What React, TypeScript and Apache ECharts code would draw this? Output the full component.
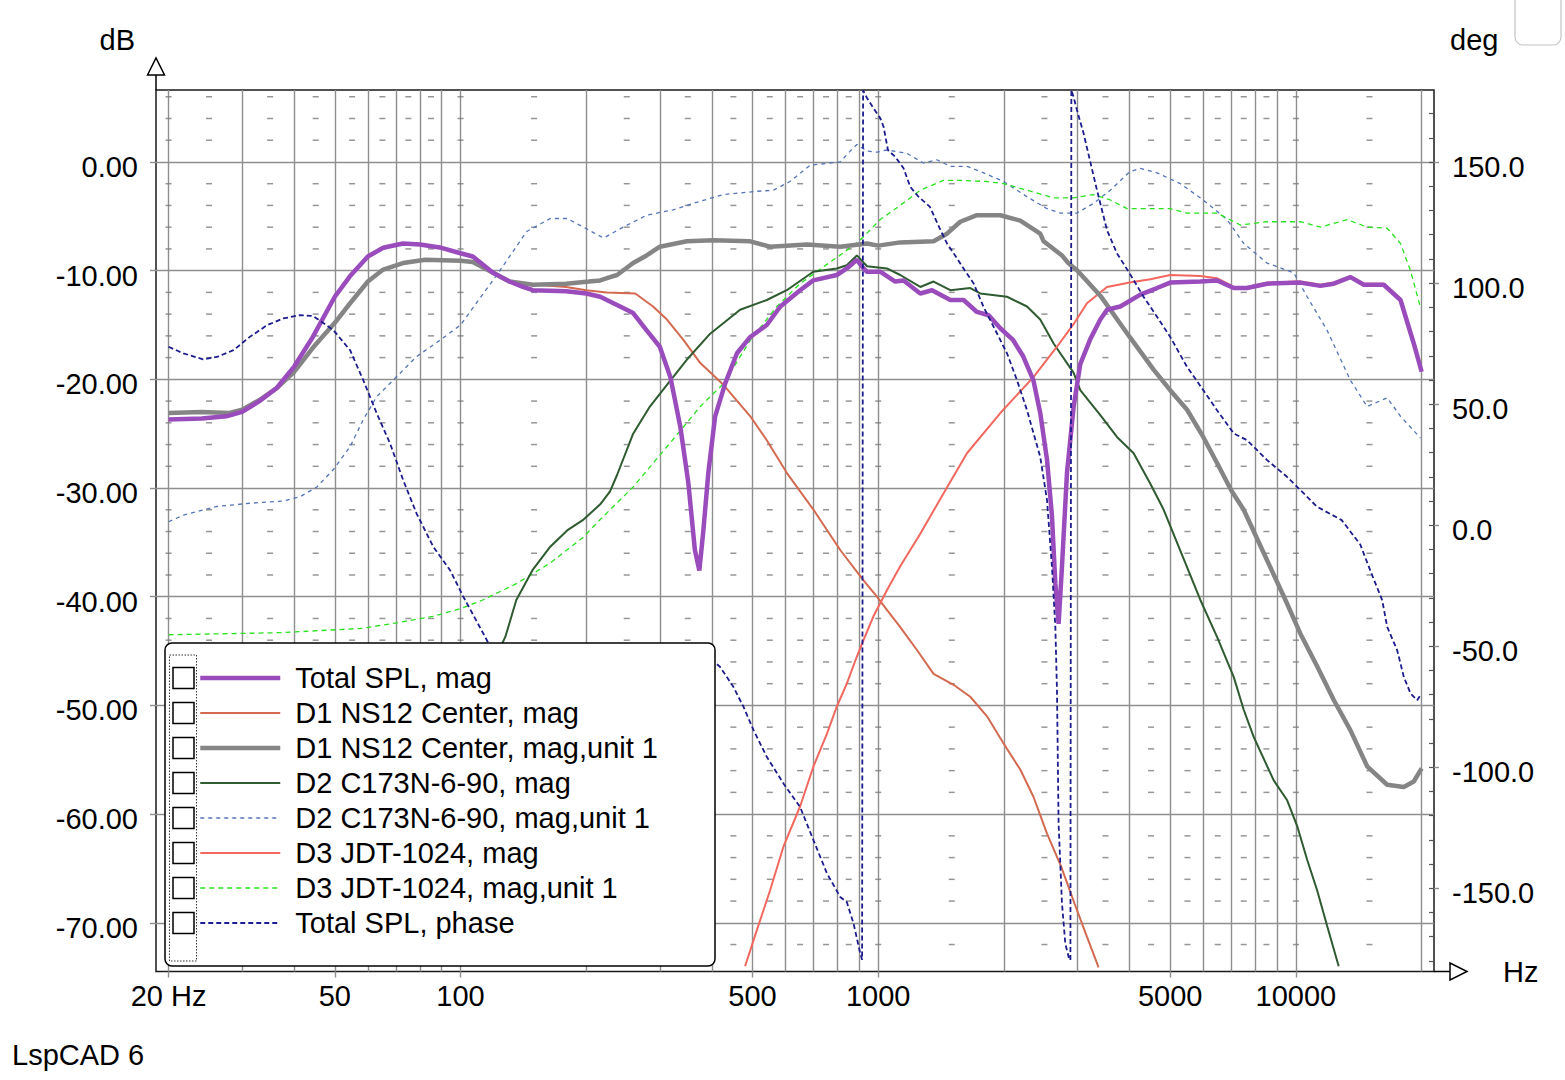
import { useEffect, useRef } from 'react';
import * as echarts from 'echarts';

const FONT = '"Liberation Sans", Arial, sans-serif';

// ---- axis ranges and ticks ----
const FREQ_RANGE = [18.66, 21410];
const DB_RANGE = [-74.48, 6.62];
const DEG_RANGE = [-184.4, 179.8];

const FREQ_LABELS = [20, 50, 100, 500, 1000, 5000, 10000];
const FREQ_GRID = [20, 30, 40, 50, 60, 70, 80, 90, 100, 200, 300, 400, 500, 600, 700, 800, 900, 1000, 2000, 3000, 4000, 5000, 6000, 7000, 8000, 9000, 10000, 20000];
const FREQ_MINOR = [20, 25, 35, 45, 55, 65, 75, 85, 100, 150, 250, 350, 450, 550, 650, 750, 850, 1000, 1500, 2500, 3500, 4500, 5500, 6500, 7500, 8500, 10000, 15000];
const DB_TICKS = [0, -10, -20, -30, -40, -50, -60, -70];
const DB_MINOR = [6, 4, 2, -2, -4, -6, -8, -12, -14, -16, -18, -22, -24, -26, -28, -32, -34, -36, -38, -42, -44, -46, -48, -52, -54, -56, -58, -62, -64, -66, -68, -72];
const DEG_TICKS = [-180, -170, -160, -150, -140, -130, -120, -110, -100, -90, -80, -70, -60, -50, -40, -30, -20, -10, 0, 10, 20, 30, 40, 50, 60, 70, 80, 90, 100, 110, 120, 130, 140, 150, 160, 170, 180];
const DEG_LABELS = [-150, -100, -50, 0, 50, 100, 150];

// ---- legend names ----
const SERIES_NAMES = [
  'Total SPL, mag',
  'D1 NS12 Center, mag',
  'D1 NS12 Center, mag,unit 1',
  'D2 C173N-6-90, mag',
  'D2 C173N-6-90, mag,unit 1',
  'D3 JDT-1024, mag',
  'D3 JDT-1024, mag,unit 1',
  'Total SPL, phase',
];

// ---- data: [Hz, dB] or [Hz, deg] ----
const TOTAL_SPL_MAG = [
  [20, -23.7], [24, -23.6], [27.5, -23.4], [30, -23.0], [33, -22.0], [36.3, -20.8], [40, -18.8], [44.3, -16.1], [50, -12.4], [54.4, -10.5],
  [60, -8.7], [65.3, -7.9], [72.8, -7.5], [80, -7.6], [90, -7.9], [100, -8.4], [107, -8.7], [119.6, -10.2], [131, -11.0], [141, -11.5],
  [149, -11.8], [179, -11.9], [200, -12.1], [216, -12.4], [241, -13.3], [259, -13.9], [279, -15.5], [300, -17.0], [318, -19.8], [336, -24.4],
  [351, -29.5], [364, -35.7], [373, -37.6], [381, -34.1], [392, -28.6], [407, -23.4], [430, -20.4], [459, -17.6], [494, -16.1], [541, -15.0],
  [583, -13.3], [650, -11.8], [699, -10.9], [796, -10.4], [841, -9.8], [889, -9.0], [922, -9.8], [940, -10.1], [1011, -10.1], [1098, -11.0],
  [1150, -10.9], [1261, -12.1], [1345, -11.8], [1488, -12.7], [1601, -12.7], [1723, -13.8], [1838, -14.1], [1960, -15.3], [2105, -16.4], [2225, -17.9],
  [2353, -20.1], [2443, -23.1], [2536, -27.4], [2606, -32.6], [2655, -38.8], [2703, -42.5], [2754, -37.2], [2831, -28.6], [2937, -22.5], [3046, -18.6],
  [3219, -16.3], [3402, -14.5], [3530, -13.6], [3798, -13.3], [4242, -12.2], [4651, -11.6], [5000, -11.1], [5905, -11.0], [6474, -10.9], [7100, -11.6],
  [7640, -11.6], [8530, -11.2], [10250, -11.1], [11450, -11.4], [12320, -11.2], [13510, -10.6], [14540, -11.3], [16230, -11.3], [17800, -12.7], [19150, -16.7],
  [20000, -19.3],
];

const D1_NS12_MAG = [
  [20, -23.7], [24, -23.6], [27.5, -23.4], [30, -23.0], [33, -22.0], [36.3, -20.8], [40, -18.8], [44.3, -16.1], [50, -12.4], [54.4, -10.5],
  [60, -8.7], [65.3, -7.9], [72.8, -7.5], [80, -7.6], [90, -7.9], [100, -8.4], [107, -8.7], [119.6, -10.2], [131, -11.1], [141, -11.2],
  [179, -11.5], [200, -11.8], [224, -12.0], [262, -12.1], [289, -13.3], [312, -14.5], [342, -16.4], [375, -18.5], [426, -20.5], [494, -23.4],
  [541, -25.6], [604, -28.6], [700, -32.0], [811, -35.7], [922, -38.5], [993, -40.0], [1049, -41.2], [1129, -42.8], [1238, -44.9], [1357, -47.1],
  [1515, -48.1], [1661, -49.2], [1822, -51.0], [1996, -53.5], [2188, -55.9], [2353, -58.4], [2536, -61.8], [2740, -64.8], [2950, -68.2], [3161, -71.3],
  [3370, -74.1],
];

const D1_NS12_UNIT1 = [
  [20, -23.1], [24, -23.0], [28, -23.1], [30, -22.8], [33, -21.9], [36.3, -20.8], [40, -19.3], [44.3, -17.1], [50, -14.8], [54.4, -13.0],
  [60, -11.0], [65.3, -9.9], [72.8, -9.3], [82.4, -9.0], [100, -9.1], [107, -9.2], [119.6, -10.2], [131, -11.0], [149, -11.3], [179, -11.2],
  [203, -11.0], [216, -10.9], [228, -10.6], [237, -10.4], [259, -9.3], [279, -8.6], [300, -7.8], [348, -7.3], [403, -7.2], [494, -7.3],
  [551, -7.8], [675, -7.6], [811, -7.8], [940, -7.5], [1000, -7.7], [1129, -7.4], [1357, -7.3], [1461, -6.6], [1572, -5.5], [1723, -4.9],
  [1960, -4.9], [2188, -5.4], [2443, -6.6], [2489, -7.3], [2754, -8.6], [2850, -9.3], [3000, -10.0], [3402, -12.3], [4000, -16.1], [4563, -19.1],
  [5000, -21.0], [5488, -22.8], [6000, -25.3], [6474, -27.7], [7000, -30.2], [7500, -32.0], [9440, -40.3], [10250, -43.4], [11240, -46.4], [12320, -49.5],
  [13510, -52.3], [14810, -55.6], [16540, -57.3], [18130, -57.5], [19150, -57.0], [20000, -55.8],
];

const D2_C173N_MAG = [
  [100, -56.0], [115, -47.5], [128, -43.7], [136, -40.3], [149, -37.5], [164, -35.4], [180, -33.9], [197, -32.9], [216, -31.5], [228, -30.3],
  [237, -28.8], [259, -25.0], [284, -22.5], [312, -20.5], [348, -18.2], [396, -15.8], [467, -13.6], [541, -12.7], [604, -11.8], [699, -10.1],
  [796, -9.8], [841, -9.5], [889, -8.6], [940, -9.6], [1049, -9.8], [1129, -10.4], [1261, -11.5], [1357, -11.0], [1488, -11.8], [1661, -11.6],
  [1755, -12.1], [2034, -12.4], [2271, -13.3], [2443, -14.5], [2630, -16.7], [2937, -19.4], [3046, -21.0], [3402, -23.3], [3729, -25.3], [4088, -26.8],
  [4482, -29.6], [4825, -32.0], [5905, -40.3], [6474, -43.7], [7100, -47.4], [7500, -50.4], [7923, -52.9], [8849, -56.9], [9520, -58.7], [10070, -61.1],
  [10640, -64.2], [11240, -67.0], [11880, -70.3], [12660, -74.0],
];

const D2_C173N_UNIT1 = [
  [20, -33.1], [21.7, -32.5], [26, -31.7], [31.3, -31.4], [37.6, -31.2], [41.3, -30.8], [45.3, -29.9], [49.6, -28.3], [54.4, -26.2], [58.5, -23.7],
  [63, -21.6], [69.7, -19.9], [78.5, -17.9], [89.3, -16.4], [100, -15.0], [109, -13.0], [119.6, -10.9], [131, -8.7], [144, -6.4], [164, -5.2],
  [180, -5.2], [197, -6.0], [220, -7.0], [245, -6.0], [279, -4.9], [323, -4.4], [361, -3.8], [426, -3.0], [512, -2.7], [561, -2.6],
  [615, -1.8], [687, -0.3], [811, 0.0], [857, 1.0], [889, 1.6], [940, 1.0], [993, 0.9], [1049, 1.1], [1171, 0.8], [1283, -0.1],
  [1382, 0.2], [1488, -0.4], [1631, -0.4], [1787, -1.0], [1996, -1.8], [2271, -3.2], [2536, -4.3], [2729, -4.7], [2991, -4.7], [3280, -3.8],
  [3595, -2.6], [4000, -0.9], [4242, -0.6], [4651, -1.0], [5289, -2.0], [6000, -3.5], [6840, -5.3], [7500, -7.5], [8530, -9.3], [9880, -10.2],
  [10640, -12.4], [11880, -15.5], [13510, -20.1], [14810, -22.5], [16540, -21.7], [17800, -23.4], [19870, -25.4],
];

const D3_JDT_MAG = [
  [480, -74.0], [512, -70.7], [551, -67.0], [593, -63.0], [650, -59.3], [700, -55.6], [754, -52.6], [796, -50.1], [841, -48.0], [889, -45.5],
  [922, -44.0], [974, -41.8], [1011, -40.6], [1049, -39.4], [1129, -37.2], [1261, -34.2], [1433, -30.5], [1631, -26.8], [1960, -23.1], [2353, -19.8],
  [2679, -17.0], [2950, -14.8], [3161, -13.0], [3530, -11.5], [4000, -11.1], [4482, -10.8], [5000, -10.4], [5905, -10.5], [6474, -10.7], [7100, -11.5],
  [7640, -11.5], [8530, -11.1], [10250, -11.0], [11450, -11.3], [12320, -11.1], [13510, -10.5], [14540, -11.2], [16230, -11.2], [17800, -12.6], [19150, -16.6],
  [20000, -19.2],
];

const D3_JDT_UNIT1 = [
  [20, -43.5], [37.6, -43.3], [58.4, -42.9], [70.3, -42.4], [86, -41.8], [100, -41.1], [113, -40.3], [136, -38.8], [164, -36.9], [197, -34.5],
  [216, -32.9], [228, -32.0], [259, -29.9], [312, -26.2], [375, -22.5], [426, -20.4], [494, -16.4], [572, -13.3], [650, -11.2], [781, -9.0],
  [823, -8.4], [905, -7.2], [1011, -5.3], [1129, -4.0], [1261, -2.6], [1433, -1.7], [1572, -1.7], [1822, -1.8], [1996, -2.0], [2271, -2.6],
  [2630, -3.3], [2937, -3.3], [3280, -3.0], [3595, -3.5], [3942, -4.3], [5000, -4.3], [5488, -4.7], [6474, -4.7], [7360, -5.8], [8530, -5.5],
  [10250, -5.5], [11450, -6.0], [13270, -5.3], [14810, -6.0], [16540, -6.1], [17800, -7.5], [18810, -10.0], [19870, -13.4],
];

const TOTAL_SPL_PHASE = [
  [20, 73.7], [21.7, 71.0], [24.2, 68.5], [26.1, 69.5], [28.6, 72.3], [31.3, 77.8], [34.4, 82.6], [37.6, 85.4], [41.3, 86.8], [44.4, 86.4],
  [49.6, 80.6], [54.4, 72.3], [58.5, 59.9], [63, 46.2], [67.8, 33.8], [72.9, 18.6], [78.5, 4.8], [86.1, -9.0], [94.4, -18.6], [101.6, -29.6],
  [113.4, -44.8], [130, -64], [160, -92], [200, -118], [250, -142], [300, -160], [335, -170], [355, -160], [368, -120], [380, -75],
  [395, -55], [418, -58.5], [450, -66.8], [476, -75.1], [503, -84.7], [541, -95.7], [593, -106.7], [650, -116.4], [700, -130.2], [754, -143.9],
  [811, -153.6], [841, -155.7], [873, -164.6], [902, -175.6], [915, -179.6], [920, 179.6], [940, 176.5], [974, 172.3], [1011, 168.2], [1030, 164.6],
  [1055, 155.0], [1098, 152.2], [1150, 147.5], [1193, 139.8], [1249, 135.7], [1330, 131.5], [1400, 123.0], [1461, 116.4], [1515, 112.4], [1601, 106.0],
  [1692, 99.9], [1787, 90.2], [1925, 79.2], [2034, 71.0], [2149, 59.9], [2271, 47.5], [2355, 37.9], [2443, 28.2], [2536, 10.3], [2606, -17.2],
  [2655, -42.0], [2679, -68.2], [2703, -123.3], [2754, -156.3], [2805, -172.9], [2857, -178.4], [2885, -179.8], [2900, 179.8], [2940, 176.5], [2991, 171.5],
  [3102, 161.9], [3219, 150.1], [3340, 138.4], [3530, 121.9], [3729, 112.3], [4000, 104.0], [4321, 94.3], [4651, 86.1], [5000, 77.8], [5488, 65.4],
  [6000, 55.8], [6474, 47.5], [7100, 37.9], [7640, 35.1], [8530, 26.9], [9520, 20.0], [10250, 14.5], [11240, 7.6], [12870, 2.1], [14260, -8.0],
  [15090, -19.0], [16090, -31.0], [16540, -42.0], [17480, -51.7], [18130, -62.7], [18810, -69.5], [19510, -72.3], [19870, -70.2],
];

const SERIES_DATA = [
  TOTAL_SPL_MAG, D1_NS12_MAG, D1_NS12_UNIT1, D2_C173N_MAG,
  D2_C173N_UNIT1, D3_JDT_MAG, D3_JDT_UNIT1, TOTAL_SPL_PHASE,
];

// ---- styling (kept apart from the data) ----
const SERIES_STYLE = [
  { color: '#9a4cbc', width: 4.5, type: 'solid', yAxis: 0, z: 7 },
  { color: '#d36a50', width: 2, type: 'solid', yAxis: 0, z: 4 },
  { color: '#858585', width: 4.5, type: 'solid', yAxis: 0, z: 5 },
  { color: '#2e5b30', width: 2, type: 'solid', yAxis: 0, z: 4 },
  { color: '#5474b8', width: 1.3, type: [4, 4], yAxis: 0, z: 3 },
  { color: '#f2685f', width: 2, type: 'solid', yAxis: 0, z: 4 },
  { color: '#27e31c', width: 1.3, type: [5, 4], yAxis: 0, z: 3 },
  { color: '#1c1c8e', width: 1.8, type: [5, 3], yAxis: 1, z: 8 },
];

const GRID_COLOR = '#8e8e8e';
const TEXT_BASE = { fontFamily: FONT, fontSize: 29, color: '#000' };

export default function App() {
  const ref = useRef<HTMLDivElement>(null);

  useEffect(() => {
    const el = ref.current;
    if (!el) return;
    const chart = echarts.init(el, null, { renderer: 'svg' });

    const minorMarks: number[][] = [];
    FREQ_MINOR.forEach((f) => DB_MINOR.forEach((d) => minorMarks.push([f, d])));

    const lineSeries = SERIES_NAMES.map((name, i) => ({
      name,
      type: 'line',
      xAxisIndex: 0,
      yAxisIndex: SERIES_STYLE[i].yAxis,
      data: SERIES_DATA[i],
      showSymbol: false,
      symbol: 'none',
      z: SERIES_STYLE[i].z,
      color: SERIES_STYLE[i].color,
      lineStyle: { color: SERIES_STYLE[i].color, width: SERIES_STYLE[i].width, type: SERIES_STYLE[i].type },
      emphasis: { disabled: true },
    }));

    const rowH = 35;
    const checkBoxes = SERIES_NAMES.map((_, i) => ({
      type: 'rect',
      z: 12,
      shape: { x: 173, y: 678 + rowH * i - 10.5, width: 21, height: 21 },
      style: { fill: 'none', stroke: '#000', lineWidth: 1.5 },
      silent: true,
    }));

    chart.setOption({
      animation: false,
      backgroundColor: '#ffffff',
      textStyle: { fontFamily: FONT },
      grid: {
        left: 156,
        top: 90,
        right: 131,
        bottom: 108.5,
        show: true,
        borderColor: '#1a1a1a',
        borderWidth: 1.5,
        containLabel: false,
      },
      xAxis: [
        {
          type: 'log',
          logBase: 10,
          min: FREQ_RANGE[0],
          max: FREQ_RANGE[1],
          position: 'bottom',
          axisLine: { show: false, onZero: false },
          axisTick: { show: false, customValues: FREQ_GRID },
          axisLabel: { show: false },
          splitLine: { show: true, lineStyle: { color: GRID_COLOR, width: 1.4 } },
        },
        {
          type: 'log',
          logBase: 10,
          min: FREQ_RANGE[0],
          max: FREQ_RANGE[1],
          position: 'bottom',
          axisLine: { show: false, onZero: false },
          axisTick: { show: true, customValues: FREQ_LABELS, length: 6, lineStyle: { color: GRID_COLOR, width: 1.4 } },
          axisLabel: {
            customValues: FREQ_LABELS,
            margin: 10,
            ...TEXT_BASE,
            formatter: (v: number) => (v === 20 ? '20 Hz' : String(v)),
          },
          splitLine: { show: false },
          name: 'Hz',
          nameLocation: 'end',
          nameGap: 69,
          nameTextStyle: { ...TEXT_BASE, align: 'left', verticalAlign: 'middle', padding: [0, 0, 6, 0] },
        },
      ],
      yAxis: [
        {
          type: 'value',
          min: DB_RANGE[0],
          max: DB_RANGE[1],
          position: 'left',
          axisLine: { show: false, onZero: false },
          axisTick: { show: true, customValues: DB_TICKS, length: 6, lineStyle: { color: GRID_COLOR, width: 1.4 } },
          axisLabel: {
            customValues: DB_TICKS,
            margin: 18,
            ...TEXT_BASE,
            verticalAlign: 'top',
            lineHeight: 10,
            formatter: (v: number) => v.toFixed(2),
          },
          splitLine: { show: true, lineStyle: { color: GRID_COLOR, width: 1.4 } },
          name: 'dB',
          nameLocation: 'end',
          nameGap: 50,
          nameTextStyle: { ...TEXT_BASE, align: 'right', verticalAlign: 'middle', padding: [0, 21, 0, 0] },
        },
        {
          type: 'value',
          min: DEG_RANGE[0],
          max: DEG_RANGE[1],
          position: 'right',
          axisLine: { show: false, onZero: false },
          axisTick: { show: true, inside: true, customValues: DEG_TICKS, length: 5, lineStyle: { color: '#555', width: 1.2 } },
          axisLabel: {
            customValues: DEG_LABELS,
            margin: 18,
            ...TEXT_BASE,
            verticalAlign: 'top',
            lineHeight: 10,
            formatter: (v: number) => v.toFixed(1),
          },
          splitLine: { show: false },
          name: 'deg',
          nameLocation: 'end',
          nameGap: 50,
          nameTextStyle: { ...TEXT_BASE, align: 'left', verticalAlign: 'middle', padding: [0, 0, 0, 16] },
        },
        {
          type: 'value',
          min: DEG_RANGE[0],
          max: DEG_RANGE[1],
          position: 'right',
          axisLine: { show: false, onZero: false },
          axisTick: { show: true, customValues: DEG_LABELS, length: 5, lineStyle: { color: GRID_COLOR, width: 1.4 } },
          axisLabel: { show: false },
          splitLine: { show: false },
        },
      ],
      legend: {
        data: SERIES_NAMES,
        orient: 'vertical',
        left: 198,
        top: 660.5,
        padding: 0,
        itemGap: 0,
        itemWidth: 80,
        itemHeight: 10,
        selectedMode: false,
        z: 11,
        itemStyle: { opacity: 0 },
        lineStyle: { width: 'inherit' },
        textStyle: { ...TEXT_BASE, lineHeight: rowH, padding: [0, 0, 0, 10] },
      },
      graphic: [
        {
          type: 'rect',
          z: 10,
          shape: { x: 165, y: 643, width: 550, height: 323, r: 7 },
          style: { fill: '#ffffff', stroke: '#000', lineWidth: 1.5 },
          silent: true,
        },
        {
          type: 'rect',
          z: 12,
          shape: { x: 169.5, y: 655, width: 27, height: 306 },
          style: { fill: 'none', stroke: '#333', lineWidth: 1, lineDash: [1.5, 1.5] },
          silent: true,
        },
        ...checkBoxes,
        {
          type: 'polygon',
          z: 12,
          shape: { points: [[147.5, 75], [156, 58], [164.5, 75]] },
          style: { fill: '#fff', stroke: '#000', lineWidth: 1.5 },
          silent: true,
        },
        { type: 'line', z: 12, shape: { x1: 156, y1: 75, x2: 156, y2: 90 }, style: { stroke: '#000', lineWidth: 1.5 }, silent: true },
        {
          type: 'polygon',
          z: 12,
          shape: { points: [[1450, 963], [1467, 971.5], [1450, 980]] },
          style: { fill: '#fff', stroke: '#000', lineWidth: 1.5 },
          silent: true,
        },
        { type: 'line', z: 12, shape: { x1: 1434, y1: 971.5, x2: 1450, y2: 971.5 }, style: { stroke: '#000', lineWidth: 1.5 }, silent: true },
        {
          type: 'rect',
          z: 12,
          shape: { x: 1515, y: -12, width: 46, height: 57, r: 8 },
          style: { fill: 'none', stroke: '#c4c4c4', lineWidth: 1.2 },
          silent: true,
        },
        {
          type: 'text',
          z: 12,
          x: 12,
          y: 1055,
          style: { text: 'LspCAD 6', ...TEXT_BASE, fill: '#000', verticalAlign: 'middle' },
          silent: true,
        },
      ],
      series: [
        {
          name: 'minor-grid',
          type: 'scatter',
          xAxisIndex: 0,
          yAxisIndex: 0,
          data: minorMarks,
          symbol: 'rect',
          symbolSize: [6, 1.5],
          itemStyle: { color: '#7c7c7c' },
          silent: true,
          z: 1,
          emphasis: { disabled: true },
        },
        ...lineSeries,
      ],
    });

    return () => chart.dispose();
  }, []);

  return (
    <div
      ref={ref}
      style={{ position: 'fixed', left: 0, top: 0, width: 1565, height: 1080, background: '#fff' }}
    />
  );
}
